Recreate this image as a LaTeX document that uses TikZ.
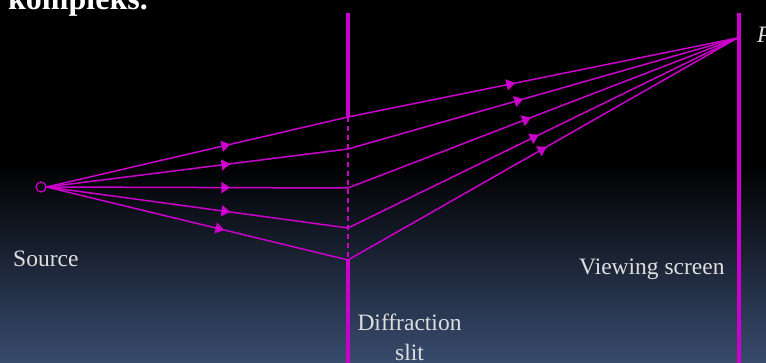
\documentclass[tikz,border=0pt]{standalone}
\usepackage{fontspec}
\setmainfont{Liberation Serif}
\usetikzlibrary{arrows.meta,decorations.markings}

\definecolor{raycol}{RGB}{204,0,204}
\definecolor{bgblue}{RGB}{56,75,110}
\definecolor{tagcol}{RGB}{222,222,222}

\tikzstyle{beam} = [color=raycol, line width=1.5pt]
\tikzstyle{wall} = [color=raycol, line width=3.4pt]
\tikzstyle{slitgap} = [color=raycol, line width=1.6pt, dash pattern=on 5pt off 4pt]
\tikzstyle{tag} = [
    text=tagcol, inner sep=0pt,
    font=\fontsize{23.5}{29}\selectfont
]
\tikzset{midarrow/.style={
    decoration={markings,
        mark=at position #1 with {\arrow{Triangle[length=9pt,width=11pt]}}},
    postaction={decorate}}}

\begin{document}
\begin{tikzpicture}[x=1pt,y=-1pt]
    \useasboundingbox (0,0) rectangle (766,363);
    % background
    \fill[black] (0,0) rectangle (766,363);
    \shade[top color=black, bottom color=bgblue] (0,165) rectangle (766,363);

    \node (title) [anchor=base west, text=white, inner sep=0pt,
        font=\fontsize{32}{38}\selectfont\bfseries] at (8,10) {kompleks.};

    % slit and screen
    \coordinate (slitTop) at (348,13);
    \coordinate (slitA) at (348,117);
    \coordinate (slitB) at (348,149);
    \coordinate (slitC) at (348,188);
    \coordinate (slitD) at (348,228);
    \coordinate (slitE) at (348,260);
    \coordinate (slitBot) at (348,363);
    \coordinate (screenTop) at (739,13);
    \coordinate (screenBot) at (739,363);
    \coordinate (P) at (737.5,38);

    \draw [wall] (slitTop) -- (slitA);
    \draw [slitgap] (slitA) -- (slitE);
    \draw [wall] (slitE) -- (slitBot);
    \draw [wall] (screenTop) -- (screenBot);

    \node (source) [circle, draw=raycol, line width=1.2pt,
        minimum size=10pt, inner sep=0pt] at (41,187) {};

    \draw [beam, midarrow=0.61] (source.east) -- (slitA);
    \draw [beam, midarrow=0.61] (source.east) -- (slitB);
    \draw [beam, midarrow=0.61] (source.east) -- (slitC);
    \draw [beam, midarrow=0.61] (source.east) -- (slitD);
    \draw [beam, midarrow=0.59] (source.east) -- (slitE);

    \draw [beam, midarrow=0.43] (slitA) -- (P);
    \draw [beam, midarrow=0.45] (slitB) -- (P);
    \draw [beam, midarrow=0.47] (slitC) -- (P);
    \draw [beam, midarrow=0.49] (slitD) -- (P);
    \draw [beam, midarrow=0.51] (slitE) -- (P);

    % labels
    \node (pLabel) [tag, anchor=base west,
        font=\fontsize{23.5}{29}\selectfont\itshape] at (757,43) {P};
    \node (sourceLabel) [tag, anchor=base west] at (13,267) {Source};
    \node (screenLabel) [tag, anchor=base west] at (579,275) {Viewing screen};
    \node (slitLabel) [tag, anchor=base, align=center] at (409.5,360) {Diffraction\\slit};
\end{tikzpicture}
\end{document}
